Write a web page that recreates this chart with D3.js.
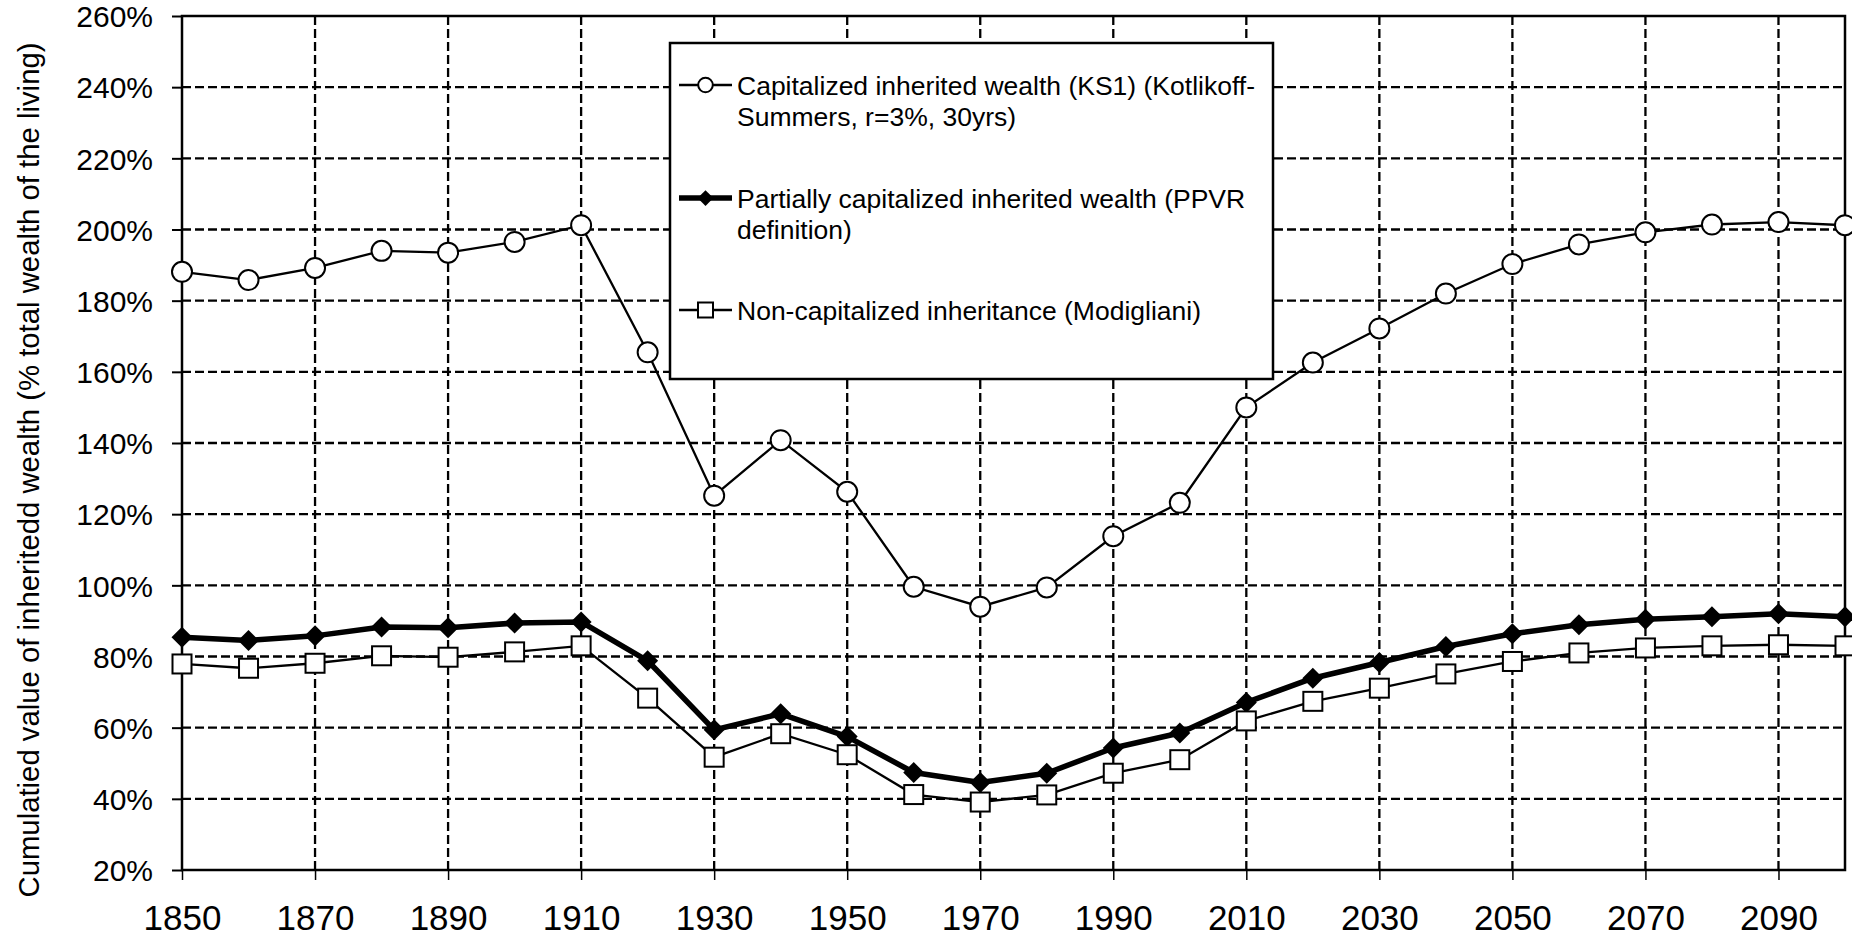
<!DOCTYPE html>
<html><head><meta charset="utf-8">
<script src="https://cdn.jsdelivr.net/npm/d3@7"></script>
<style>
html,body{margin:0;padding:0;background:#fff;}
svg{display:block;}
text{font-family:"Liberation Sans", Arial, sans-serif; fill:#000;}
</style>
</head><body>
<svg id="chart" width="1852" height="936"></svg>
<script>
// ---- data ----
const years = [1850,1860,1870,1880,1890,1900,1910,1920,1930,1940,1950,1960,1970,1980,1990,2000,2010,2020,2030,2040,2050,2060,2070,2080,2090,2100];
const ks1 = [188.1,185.8,189.2,194.0,193.5,196.5,201.2,165.5,125.2,140.8,126.3,99.6,94.0,99.4,113.8,123.2,150.0,162.6,172.2,182.0,190.3,195.8,199.2,201.4,202.1,201.2];
const ppvr = [85.4,84.5,85.8,88.3,88.1,89.4,89.7,78.8,59.4,63.9,57.5,47.4,44.6,47.2,54.3,58.5,67.1,73.9,78.3,82.8,86.4,88.9,90.5,91.2,92.0,91.2];
const modigliani = [77.9,76.7,78.1,80.2,79.8,81.3,83.0,68.3,51.7,58.3,52.4,41.2,39.1,41.1,47.2,51.0,61.9,67.4,71.1,75.1,78.6,81.0,82.4,83.0,83.3,83.0];
const xTicks = [1850,1870,1890,1910,1930,1950,1970,1990,2010,2030,2050,2070,2090];
const xGrid = [1870,1890,1910,1930,1950,1970,1990,2010,2030,2050,2070,2090];
const yTicks = [20,40,60,80,100,120,140,160,180,200,220,240,260];
const yGrid = [40,60,80,100,120,140,160,180,200,220,240];
const legendLines = [
  ["Capitalized inherited wealth (KS1) (Kotlikoff-", "Summers, r=3%, 30yrs)"],
  ["Partially capitalized inherited wealth (PPVR", "definition)"],
  ["Non-capitalized inheritance (Modigliani)"]
];
const yTitle = "Cumulatied value of inheritedd wealth (% total wealth of the living)";

// ---- layout ----
const L = 182, R = 1845, T = 16, B = 870;
const svg = d3.select("#chart");
const x = d3.scaleLinear().domain([1850, 2100]).range([L, R]);
const y = d3.scaleLinear().domain([20, 260]).range([B, T]);

// gridlines
const grid = svg.append("g").attr("stroke", "#000").attr("stroke-width", 2.3).attr("stroke-dasharray", "9,4");
grid.selectAll("line.h").data(yGrid).join("line")
  .attr("x1", L).attr("x2", R).attr("y1", d => y(d)).attr("y2", d => y(d));
grid.selectAll("line.v").data(xGrid).join("line")
  .attr("y1", T).attr("y2", B).attr("x1", d => x(d)).attr("x2", d => x(d));

// axes
const xAxis = d3.axisBottom(x).tickValues(xTicks).tickFormat(d3.format("d")).tickSizeInner(10).tickSizeOuter(0).tickPadding(25);
const gx = svg.append("g").attr("transform", `translate(0,${B})`).call(xAxis);
gx.select(".domain").remove();
gx.selectAll(".tick line").attr("stroke", "#000").attr("stroke-width", 1.5);
gx.selectAll(".tick text").attr("font-size", 35).attr("font-family", "Liberation Sans, Arial, sans-serif")
  .attr("dy", null).attr("y", 60);

const yAxis = d3.axisLeft(y).tickValues(yTicks).tickFormat(d => d + "%").tickSizeInner(10).tickSizeOuter(0).tickPadding(19);
const gy = svg.append("g").attr("transform", `translate(${L},0)`).call(yAxis);
gy.select(".domain").remove();
gy.selectAll(".tick line").attr("stroke", "#000").attr("stroke-width", 2);
gy.selectAll(".tick text").attr("font-size", 30).attr("font-family", "Liberation Sans, Arial, sans-serif")
  .attr("dy", "0.36em");

// plot border
svg.append("rect").attr("x", L).attr("y", T).attr("width", R - L).attr("height", B - T)
  .attr("fill", "none").attr("stroke", "#000").attr("stroke-width", 2.5);

// y title
svg.append("text").attr("transform", `translate(39,${470}) rotate(-90)`)
  .attr("text-anchor", "middle").attr("font-size", 29.3).text(yTitle);

// series
const line = d3.line().x((d, i) => x(years[i])).y(d => y(d));
const diamond = "M0,-10.5L10.5,0L0,10.5L-10.5,0Z";

// KS1
svg.append("path").datum(ks1).attr("d", line).attr("fill", "none").attr("stroke", "#000").attr("stroke-width", 2.3);
svg.append("g").selectAll("circle").data(ks1).join("circle")
  .attr("cx", (d, i) => x(years[i])).attr("cy", d => y(d)).attr("r", 10)
  .attr("fill", "#fff").attr("stroke", "#000").attr("stroke-width", 2);

// PPVR
svg.append("path").datum(ppvr).attr("d", line).attr("fill", "none").attr("stroke", "#000").attr("stroke-width", 5.5).attr("stroke-linejoin", "round");
svg.append("g").selectAll("path").data(ppvr).join("path")
  .attr("transform", (d, i) => `translate(${x(years[i])},${y(d)})`).attr("d", diamond).attr("fill", "#000");

// Modigliani
svg.append("path").datum(modigliani).attr("d", line).attr("fill", "none").attr("stroke", "#000").attr("stroke-width", 2.3);
svg.append("g").selectAll("rect").data(modigliani).join("rect")
  .attr("x", (d, i) => x(years[i]) - 9.5).attr("y", d => y(d) - 9.5).attr("width", 19).attr("height", 19)
  .attr("fill", "#fff").attr("stroke", "#000").attr("stroke-width", 2);

// legend
const lg = svg.append("g");
lg.append("rect").attr("x", 670).attr("y", 43).attr("width", 603).attr("height", 336)
  .attr("fill", "#fff").attr("stroke", "#000").attr("stroke-width", 2.5);
const itemY = [85, 198, 310];
const lx1 = 679, lx2 = 732, mx = 705.5, tx = 737;
// item 1
lg.append("line").attr("x1", lx1).attr("x2", lx2).attr("y1", itemY[0]).attr("y2", itemY[0]).attr("stroke", "#000").attr("stroke-width", 2.3);
lg.append("circle").attr("cx", mx).attr("cy", itemY[0]).attr("r", 7.3).attr("fill", "#fff").attr("stroke", "#000").attr("stroke-width", 2);
// item 2
lg.append("line").attr("x1", lx1).attr("x2", lx2).attr("y1", itemY[1]).attr("y2", itemY[1]).attr("stroke", "#000").attr("stroke-width", 5.5);
lg.append("path").attr("transform", `translate(${mx},${itemY[1]}) scale(0.75)`).attr("d", diamond).attr("fill", "#000");
// item 3
lg.append("line").attr("x1", lx1).attr("x2", lx2).attr("y1", itemY[2]).attr("y2", itemY[2]).attr("stroke", "#000").attr("stroke-width", 2.3);
lg.append("rect").attr("x", mx - 7.5).attr("y", itemY[2] - 7.5).attr("width", 15).attr("height", 15).attr("fill", "#fff").attr("stroke", "#000").attr("stroke-width", 2);

legendLines.forEach((lines, k) => {
  const t = lg.append("text").attr("x", tx).attr("y", itemY[k] + 9.6).attr("font-size", 26.5);
  lines.forEach((s, j) => {
    t.append("tspan").attr("x", tx).attr("dy", j === 0 ? 0 : 31.7).text(s);
  });
});
</script>
</body></html>
